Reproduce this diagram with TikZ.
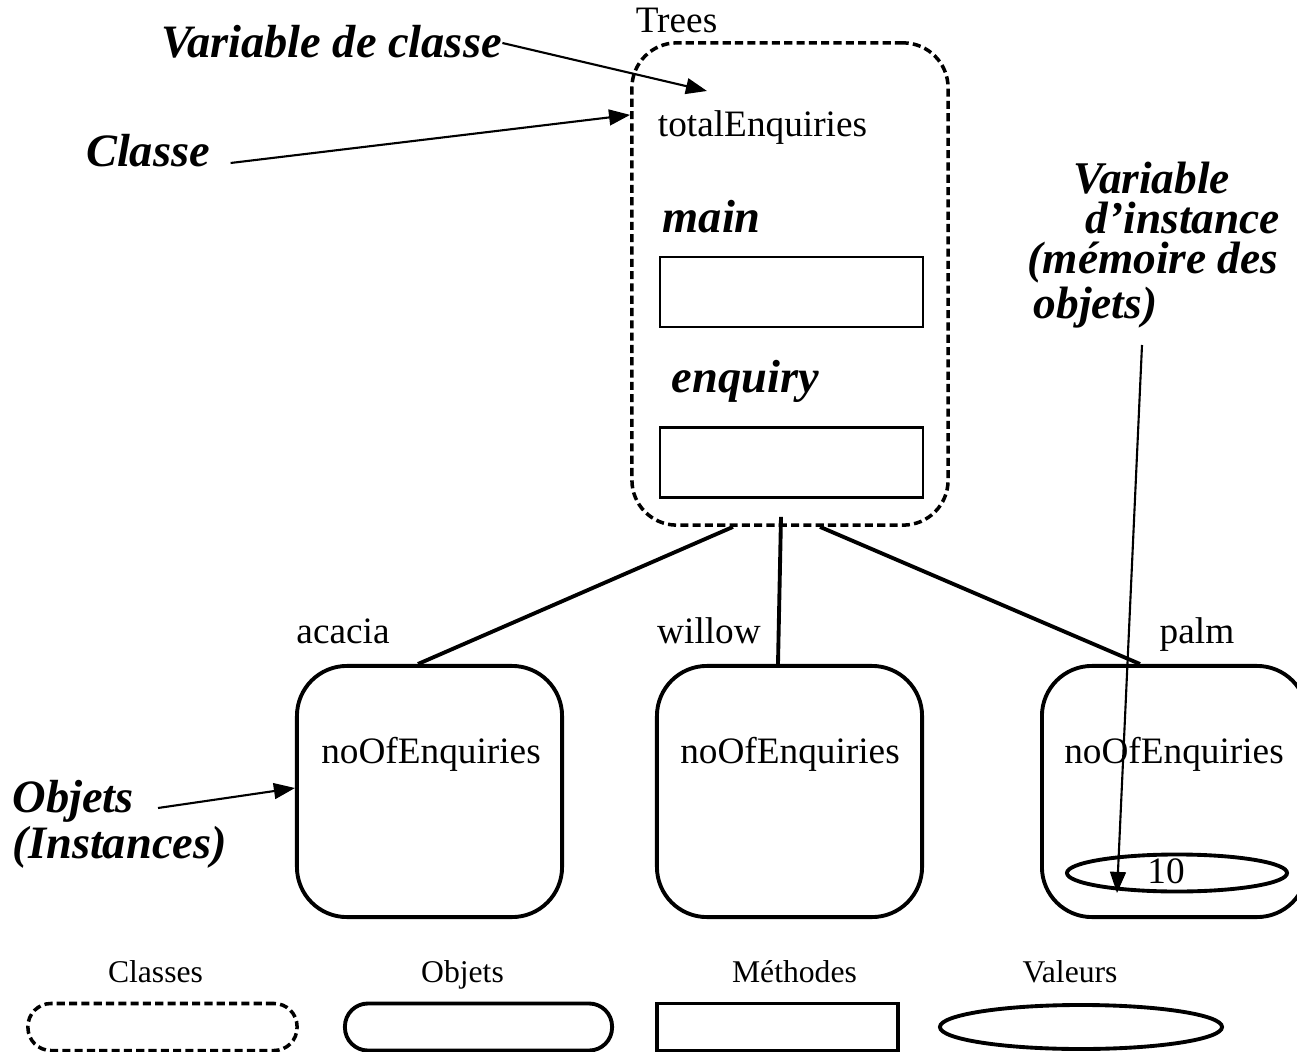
\documentclass[tikz,border=0pt]{standalone}
\usepackage{fontspec}
\setmainfont{Liberation Serif}
\usetikzlibrary{positioning}
\usetikzlibrary{shapes.geometric}
\usetikzlibrary{arrows.meta}
\tikzset{%
	>={Triangle[length=6pt,width=4.5pt]},
	% Specifications for style of nodes:
	txt/.style = {font=\fontsize{10.6}{12}\selectfont, inner sep=0pt, anchor=base},
	legtxt/.style = {font=\fontsize{9}{11}\selectfont, inner sep=0pt, anchor=base},
	note/.style = {font=\fontsize{13.2}{11.4}\selectfont\bfseries\itshape, inner sep=0pt},
	classbox/.style = {rectangle, draw=black, line width=1pt, dash pattern=on 2.3pt off 1.2pt, rounded corners=0.45cm, minimum width=3.16cm, minimum height=4.82cm},
	objbox/.style = {rectangle, draw=black, line width=1.1pt, rounded corners=0.5cm, minimum width=2.65cm, minimum height=2.51cm},
	methbox/.style = {rectangle, draw=black, line width=0.6pt, minimum width=2.63cm, minimum height=0.7cm},
	valbox/.style = {ellipse, draw=black, line width=1.1pt, inner sep=0pt},
	link/.style = {line width=1.1pt},
	pointer/.style = {line width=0.6pt, ->},
}

\begin{document}
\begin{tikzpicture}[x=0.01cm, y=-0.01cm]
		\useasboundingbox (0,0) rectangle (1297,1052);

		% la classe
		\node (Trees) [classbox] at (790,284) {};
		\node (TreesName) [txt] at (676.5,33) {Trees};
		\node (Total) [txt] at (762.5,137) {totalEnquiries};
		\node (Main) [note, anchor=base west] at (662,233) {main};
		\node (MainBox) [methbox] at (791.5,292) {};
		\node (Enquiry) [note, anchor=base west] at (671,393) {enquiry};
		\node (EnquiryBox) [methbox] at (791.5,462.5) {};

		% les objets
		\node (Acacia) [objbox] at (429.5,791.5) {};
		\node (AcaciaName) [txt] at (343,643) {acacia};
		\node (AcaciaVar) [txt] at (431,763) {noOfEnquiries};

		\node (Willow) [objbox] at (789.5,791.5) {};
		\node (WillowName) [txt] at (709,643) {willow};
		\node (WillowVar) [txt] at (790,763) {noOfEnquiries};

		\node (Palm) [objbox] at (1174.5,791.5) {};
		\node (PalmName) [txt] at (1197,643) {palm};
		\node (PalmVar) [txt] at (1174,763) {noOfEnquiries};
		\node (PalmVal) [valbox, minimum width=2.2cm, minimum height=0.37cm] at (1177,873) {};
		\node (PalmTen) [txt] at (1166,883) {10};

		% les commentaires
		\node (VarClasse) [note, anchor=base] at (331.5,58) {Variable de classe};
		\node (Classe) [note, anchor=base] at (148,167) {Classe};
		\node (Objets) [note, align=left, anchor=north west, font=\fontsize{13.2}{10}\selectfont\bfseries\itshape] at (12,780) {Objets\\(Instances)};
		\node (VarInst) [note, align=left, anchor=north west, font=\fontsize{12.9}{11.4}\selectfont\bfseries\itshape] at (1027,161) {\hspace{0.46cm}Variable\\\hspace{0.58cm}d'instance\\(mémoire des\\\hspace{0.06cm}objets)};

		\coordinate (VarTip) at (707,91);
		\coordinate (ObjStart) at (158,808);
		\coordinate (InstStart) at (1142,345);
		\coordinate (InstTip) at (1117,893);

		\draw [link] ([xshift=-0.57cm]Trees.south) -- ([xshift=-0.115cm]Acacia.north);
		\draw [link] ([xshift=-0.09cm,yshift=0.1cm]Trees.south) -- ([xshift=-0.115cm]Willow.north);
		\draw [link] ([xshift=0.3cm]Trees.south) -- ([xshift=-0.345cm]Palm.north);

		\draw [pointer] ([yshift=0.15cm]VarClasse.base east) -- (VarTip);
		\draw [pointer] ([xshift=0.2cm,yshift=0.04cm]Classe.base east) -- ([yshift=1.69cm]Trees.west);
		\draw [pointer] (ObjStart) -- ([yshift=0.035cm]Acacia.west);
		\draw [pointer] (InstStart) -- (InstTip);

		% la legende
		\node (LegClasses) [legtxt] at (155.5,982) {Classes};
		\node (LegObjets) [legtxt] at (462.5,982) {Objets};
		\node (LegMethodes) [legtxt] at (794.5,982) {Méthodes};
		\node (LegValeurs) [legtxt] at (1070,982) {Valeurs};

		\node (ClassShape) [classbox, minimum width=2.69cm, minimum height=0.47cm, rounded corners=0.23cm] at (162.5,1027) {};
		\node (ObjShape) [objbox, minimum width=2.67cm, minimum height=0.47cm, rounded corners=0.23cm] at (478.5,1027) {};
		\node (MethShape) [methbox, line width=1.1pt, minimum width=2.41cm, minimum height=0.47cm] at (777.5,1027) {};
		\node (ValShape) [valbox, minimum width=2.82cm, minimum height=0.44cm] at (1081,1027) {};
     \end{tikzpicture}
\end{document}
